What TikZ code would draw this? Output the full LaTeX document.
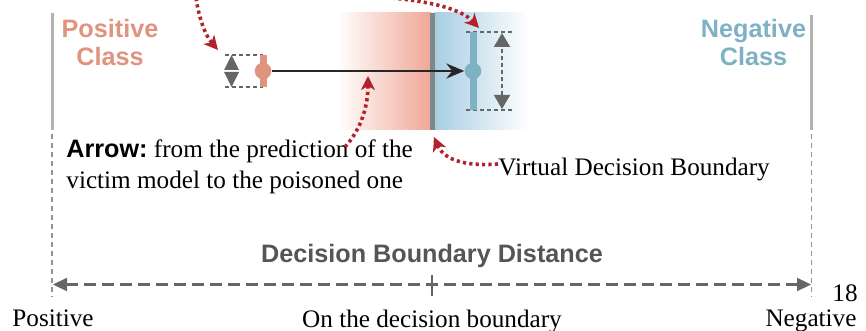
\documentclass[tikz,border=0pt]{standalone}
\usepackage{fontspec}
\setmainfont{Liberation Serif}
\newfontfamily\sansfont{Liberation Sans}
\usepackage{xcolor}
\usetikzlibrary{positioning,arrows.meta}

\definecolor{posred}{HTML}{E0937E}
\definecolor{negblue}{HTML}{7EB1C3}
\definecolor{shadered}{HTML}{F0A796}
\definecolor{shadeblue}{HTML}{A7CDE2}
\definecolor{bndgray}{HTML}{7F8888}
\definecolor{hintred}{HTML}{B1222C}
\definecolor{axisgray}{HTML}{666666}
\definecolor{titlegray}{HTML}{555555}

\begin{document}
\begin{tikzpicture}[x=0.5pt,y=-0.5pt,
    every node/.style={inner sep=0pt,font=\fontsize{12.6}{15.5}\selectfont},
    classlbl/.style={font=\sansfont\bfseries\fontsize{12.6}{14}\selectfont,align=center},
    classline/.style={draw=gray!60,line width=1.5pt},
    guide/.style={draw=gray!85,line width=0.6pt,dash pattern=on 2.5pt off 2pt},
    boxline/.style={draw=axisgray,line width=0.9pt,dash pattern=on 2pt off 1.5pt},
    hint/.style={draw=hintred,line width=1.8pt,dash pattern=on 1.6pt off 1.6pt,
                 -{Stealth[length=7pt,width=7pt,inset=2pt]}},
    marker/.style={circle,minimum size=8.3pt,fill=#1},
    bar/.style={draw=#1,line width=3.5pt}]

    \useasboundingbox (0,0) rectangle (866,331);

    % shaded sides of the boundary
    \shade[left color=white,right color=shadered] (337,13) rectangle (431,130);
    \shade[left color=shadeblue,right color=white] (434,13) rectangle (528,130);
    \coordinate (bndtop) at (432.5,13);
    \coordinate (bndbot) at (432.5,130);
    \draw[draw=bndgray,line width=2.5pt] (bndtop) -- (bndbot);

    % class borders
    \coordinate (pctop) at (52,13);
    \coordinate (pcbot) at (52,130);
    \coordinate (nctop) at (811,15);
    \coordinate (ncbot) at (811,130);
    \draw[classline] (pctop) -- (pcbot);
    \draw[classline] (nctop) -- (ncbot);

    \node[classlbl,text=posred] (poscls) at (110,42) {Positive\\Class};
    \node[classlbl,text=negblue] (negcls) at (753.5,42) {Negative\\Class};

    % victim prediction
    \coordinate (pbtop) at (263,55);
    \coordinate (pbbot) at (263,87);
    \draw[boxline] (225,55) -- (pbtop);
    \draw[boxline] (225,87) -- (pbbot);
    \draw[bar=posred] (pbtop) -- (pbbot);
    \node[marker=posred] (pmark) at (263,71) {};
    \draw[fill=axisgray,draw=none] (224,70) -- (231.5,55) -- (239,70) -- cycle;
    \draw[fill=axisgray,draw=none] (224,72) -- (231.5,87) -- (239,72) -- cycle;

    % poisoned prediction
    \coordinate (nbtop) at (473,32);
    \coordinate (nbbot) at (473,110);
    \draw[boxline] (466,32) -- (514,32);
    \draw[boxline] (466,110) -- (514,110);
    \draw[bar=negblue] (nbtop) -- (nbbot);
    \node[marker=negblue] (nmark) at (473,71) {};
    \coordinate (ntop) at (502,33);
    \coordinate (nbot) at (502,109);
    \draw[boxline,{Triangle[length=7pt,width=8pt]}-{Triangle[length=7pt,width=8pt]}] (nbot) -- (ntop);

    \draw[draw=black!85,line width=1pt,-{Stealth[length=9pt,width=7.5pt,inset=3pt]}] (pmark) -- (nmark);

    % notes
    \node[anchor=north west,align=left] (note) at (66,139)
        {{\sansfont\bfseries Arrow:}\ from the prediction of the\\victim model to the poisoned one};
    \node[anchor=base west] (vdb) at (498,176) {Virtual Decision Boundary};

    \coordinate (h1a) at (196,-2);
    \coordinate (h1b) at (218,50);
    \coordinate (h2a) at (392,-2);
    \coordinate (h2b) at (479,28);
    \coordinate (h3a) at (345,147);
    \coordinate (h3b) at (368,76);
    \coordinate (h4b) at (434,137);
    \draw[hint] (h1a) .. controls (199,18) and (205,35) .. (h1b);
    \draw[hint] (h2a) .. controls (435,2) and (462,10) .. (h2b);
    \draw[hint] (h3a) .. controls (362,128) and (368,105) .. (h3b);
    \draw[hint] ([yshift=3pt]vdb.west) .. controls (462,167) and (443,158) .. (h4b);

    % distance axis
    \coordinate (axl) at (53,284.5);
    \coordinate (axm) at (432,284.5);
    \coordinate (axr) at (811,284.5);
    \draw[guide] (52,134) -- (52,297);
    \draw[guide] (811.5,134) -- (811.5,297);
    \draw[draw=axisgray,line width=1.1pt,dash pattern=on 6pt off 3pt,
          {Triangle[length=7pt,width=6.5pt]}-{Triangle[length=7pt,width=6.5pt]}] (axl) -- (axr);
    \draw[draw=axisgray,line width=1.4pt] ([yshift=5pt]axm) -- ([yshift=-5.5pt]axm);

    \node[anchor=base,font=\sansfont\bfseries\fontsize{12.6}{14}\selectfont,text=titlegray]
        (dbd) at (432,263) {Decision Boundary Distance};
    \node[below=12.6pt of axl] (lpos) {Positive};
    \node[below=12.6pt of axm] (lmid) {On the decision boundary};
    \node[below=12.6pt of axr] (lneg) {Negative};
    \node[anchor=base] (pagenum) at (845,301) {18};
\end{tikzpicture}
\end{document}
